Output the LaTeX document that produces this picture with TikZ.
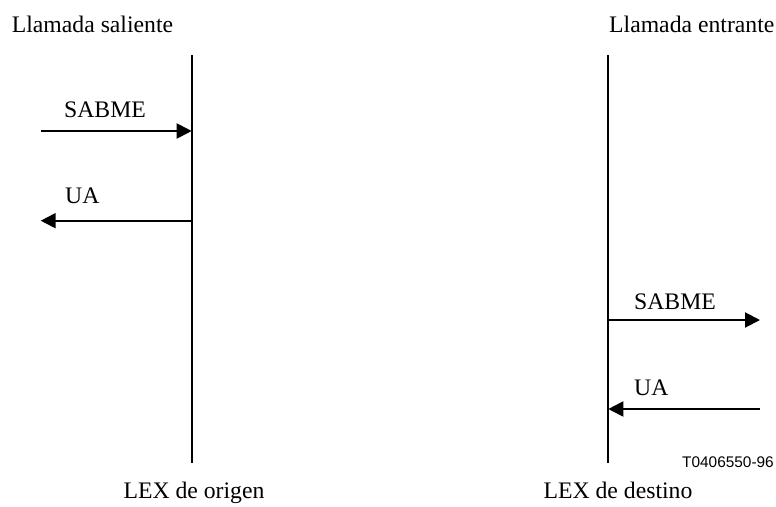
\documentclass[tikz,border=0pt]{standalone}
\usepackage{fontspec}
\setmainfont{Liberation Serif}
\newfontfamily\labelsans{Liberation Sans}
\usetikzlibrary{arrows.meta}
\begin{document}
\begin{tikzpicture}[x=1pt,y=-1pt,
  lbl/.style={inner sep=0pt,font=\fontsize{23.7}{26}\selectfont},
  ref/.style={inner sep=0pt,font=\labelsans\fontsize{15.4}{17}\selectfont},
  life/.style={line width=2pt},
  msg/.style={line width=2pt,-{Triangle[length=15pt,width=15pt]}}]
\useasboundingbox (0,0) rectangle (776,506);
% titles
\node[lbl,anchor=base west] (tl) at (11.7,32.3) {Llamada saliente};
\node[lbl,anchor=base west] (tr) at (609,32.3) {Llamada entrante};
% lifelines
\coordinate (Lt) at (191.7,55);
\coordinate (Lb) at (191.7,463);
\coordinate (Rt) at (608.3,55);
\coordinate (Rb) at (608.3,463);
\draw[life] (Lt) -- (Lb);
\draw[life] (Rt) -- (Rb);
% left messages
\coordinate (s1a) at (41,131);
\coordinate (s1b) at (191.7,131);
\draw[msg] (s1a) -- (s1b);
\node[lbl,anchor=base west] (s1l) at (64,117.5) {SABME};
\coordinate (u1a) at (191.7,220.7);
\coordinate (u1b) at (40.7,220.7);
\draw[msg] (u1a) -- (u1b);
\node[lbl,anchor=base west] (u1l) at (65,203) {UA};
% right messages
\coordinate (s2a) at (608.3,320);
\coordinate (s2b) at (760,320);
\draw[msg] (s2a) -- (s2b);
\node[lbl,anchor=base west] (s2l) at (634,309.3) {SABME};
\coordinate (u2a) at (760,409);
\coordinate (u2b) at (608.3,409);
\draw[msg] (u2a) -- (u2b);
\node[lbl,anchor=base west] (u2l) at (634,395) {UA};
% bottom labels
\node[lbl,anchor=base] (bl) at (194,498) {LEX de origen};
\node[lbl,anchor=base] (br) at (618,498) {LEX de destino};
\node[ref,anchor=base east] (code) at (774,467.7) {T0406550-96};
\end{tikzpicture}
\end{document}
